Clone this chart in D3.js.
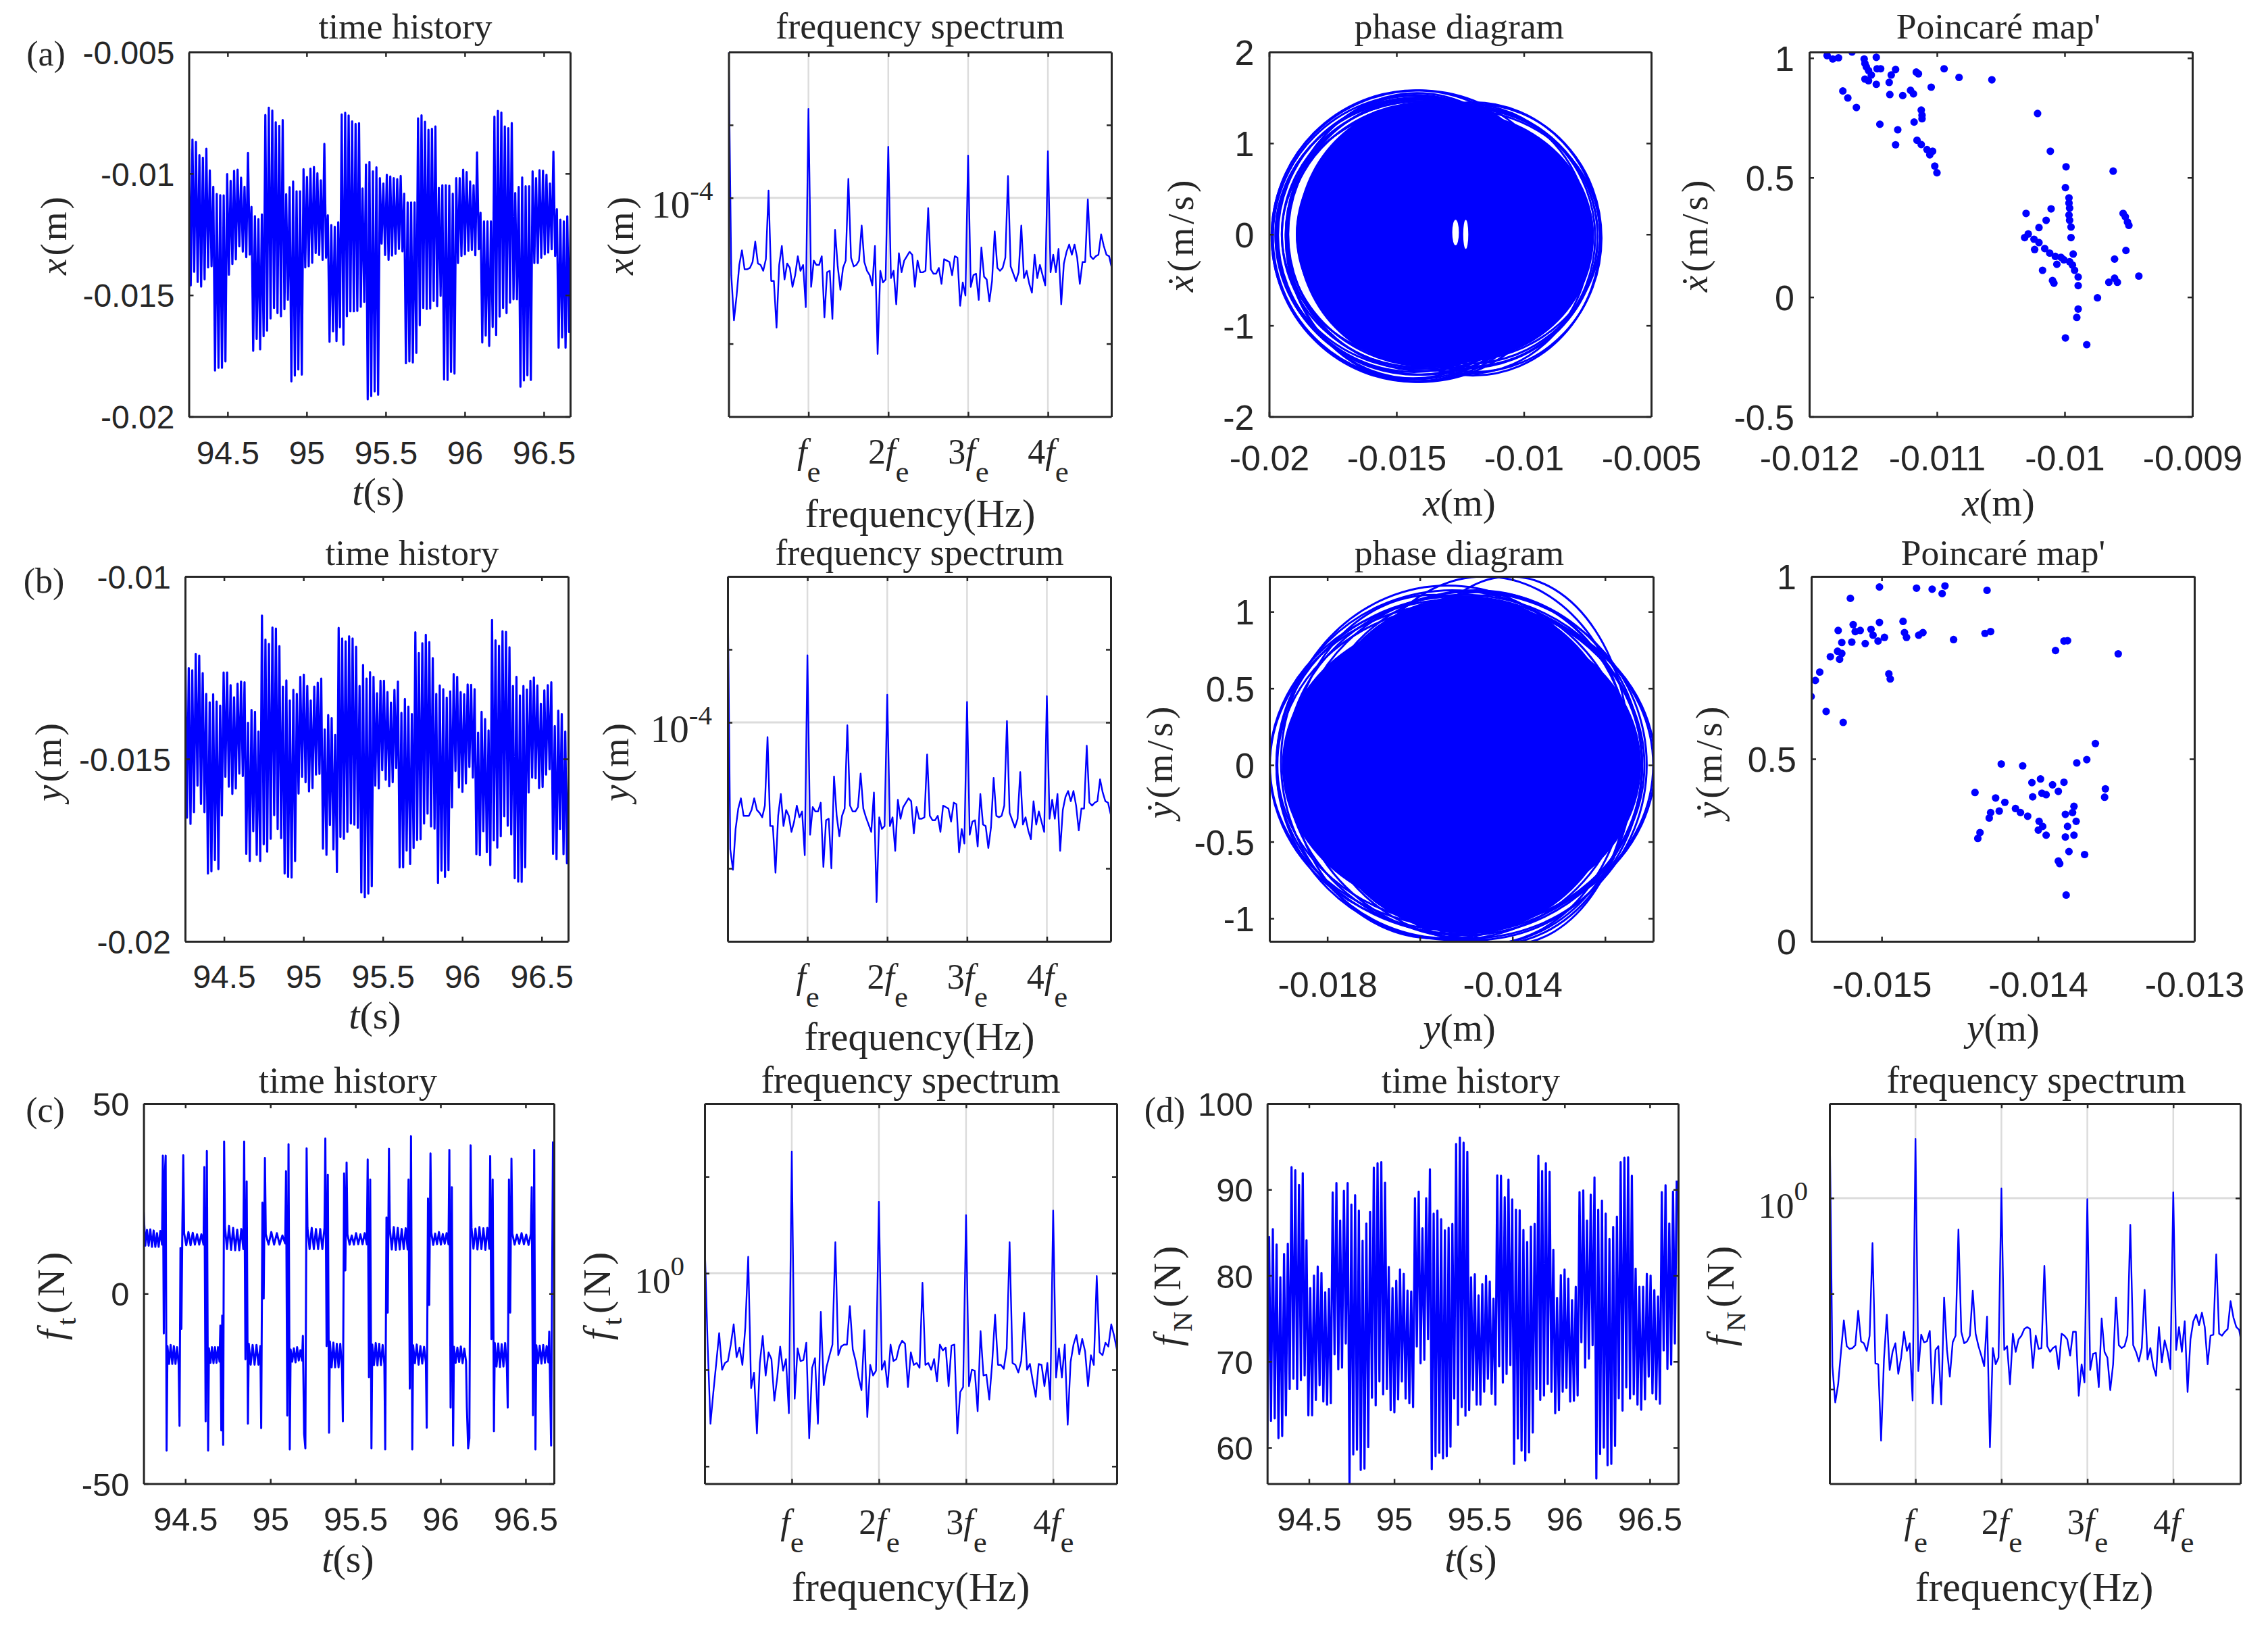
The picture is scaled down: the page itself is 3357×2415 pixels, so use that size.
<!DOCTYPE html>
<html>
<head>
<meta charset="utf-8">
<script src="https://d3js.org/d3.v7.min.js"></script>
<style>
  html, body { margin: 0; background: #fff; }
  svg text { fill: #262626; }
  .serif { font-family: "Liberation Serif", serif; }
  .tick text { font-family: "Liberation Sans", sans-serif; }
</style>
</head>
<body>
<div id="chart-area"></div>
<script>
// time histories, cycle peaks and troughs (x, y in mm, fN in N)
const timeXTops = [-8.98,-8.6,-8.7,-9.24,-9.35,-8.98,-9.87,-10.54,-10.84,-10.89,-10.9,-10.02,-10.3,-9.89,-9.84,-10.17,-10.54,-9.15,-11.37,-11.75,-11.88,-11.68,
  -7.59,-7.29,-7.41,-7.89,-8.04,-7.8,-10.85,-10.56,-10.33,-10.73,-10.73,-9.82,-10.14,-9.8,-9.73,-9.99,-10.28,-8.78,-11.72,-12.12,-12.19,-12.0,
  -7.57,-7.5,-7.61,-7.85,-7.96,-7.93,-10.61,-9.63,-9.52,-9.91,-9.74,-10.19,-10.41,-10.05,-10.12,-10.19,-10.23,-10.1,-10.83,-11.19,-11.19,-11.19,
  -7.73,-7.6,-7.87,-8.2,-8.16,-8.06,-10.59,-10.48,-10.48,-10.5,-10.83,-10.19,-10.19,-9.84,-9.94,-10.33,-10.48,-9.13,-11.61,-11.97,-11.97,-11.97,
  -7.66,-7.42,-7.49,-8.06,-8.13,-7.92,-10.8,-10.55,-10.16,-10.52,-10.52,-9.91,-10.19,-9.86,-9.88,-10.05,-10.41,-9.1,-11.47,-11.9,-11.97,-11.76,-11.61]
const timeXBottoms = [-14.6,-14.04,-14.46,-14.65,-14.35,-13.86,-13.81,-18.1,-17.99,-17.99,-17.73,-14.16,-13.72,-13.53,-12.99,-13.21,-13.44,-13.33,-17.29,-16.8,-17.23,-16.69,-16.46,
  -15.96,-15.53,-15.74,-15.87,-15.58,-15.19,-18.55,-18.31,-18.06,-18.27,-13.86,-13.81,-13.67,-13.27,-13.35,-13.55,-13.46,-16.92,-16.49,-16.89,-16.32,-17.04,
  -15.87,-15.67,-15.67,-15.65,-15.48,-15.28,-19.29,-19.15,-18.96,-19.1,-12.88,-13.35,-13.55,-13.37,-13.3,-13.1,-13.2,-17.8,-17.73,-17.77,-17.38,-16.24,
  -15.53,-15.57,-15.55,-15.24,-15.45,-15.03,-18.47,-18.49,-18.16,-18.23,-13.68,-13.39,-13.32,-13.18,-13.14,-13.36,-13.11,-16.95,-16.66,-17.09,-16.31,-16.64,
  -15.88,-15.53,-15.74,-15.31,-15.17,-15.17,-18.77,-18.51,-18.3,-18.49,-13.68,-13.68,-13.46,-13.32,-13.25,-13.11,-13.39,-17.16,-16.74,-17.16,-16.52]
const timeYTops = [-11.86,-12.51,-12.57,-12.12,-12.17,-12.65,-13.22,-13.45,-13.23,-13.43,-13.54,-12.63,-12.63,-12.98,-13.31,-12.94,-12.88,-12.9,-14.01,-13.66,-13.71,-14.25,
  -11.07,-11.73,-11.85,-11.4,-11.43,-11.91,-13.02,-12.85,-13.4,-13.11,-13.22,-12.75,-12.69,-13.0,-13.4,-13.02,-12.91,-12.8,-14.19,-13.8,-13.88,-14.34,
  -11.41,-11.7,-11.78,-11.64,-11.7,-11.93,-13.0,-12.43,-12.8,-12.62,-12.75,-13.2,-12.86,-12.86,-13.17,-13.46,-13.11,-12.88,-13.74,-13.36,-13.57,-13.77,
  -11.53,-12.1,-11.83,-11.6,-11.8,-12.24,-13.22,-12.99,-13.09,-13.32,-13.15,-12.68,-12.75,-13.17,-13.23,-12.96,-12.97,-13.09,-14.28,-13.71,-13.91,-14.22,
  -11.19,-11.75,-11.9,-11.5,-11.52,-11.94,-13.0,-12.75,-13.26,-13.0,-13.1,-12.86,-12.77,-12.99,-13.49,-13.12,-12.98,-12.9,-14.1,-13.68,-13.77,-14.25,-15.19]
const timeYBottoms = [-16.61,-16.78,-16.46,-15.73,-16.23,-16.46,-18.14,-18.08,-17.77,-18.02,-16.55,-15.49,-15.76,-15.96,-15.81,-15.4,-15.47,-17.6,-17.8,-16.98,-17.63,-17.8,
  -17.34,-17.54,-17.19,-16.54,-16.92,-17.17,-18.14,-18.23,-18.25,-17.8,-15.95,-15.49,-15.64,-15.89,-15.8,-15.43,-15.41,-17.46,-17.63,-16.81,-17.48,-18.1,
  -17.14,-17.19,-17.0,-16.77,-16.8,-16.89,-18.66,-18.79,-18.69,-18.49,-15.73,-15.81,-15.31,-15.57,-15.75,-15.64,-15.25,-17.97,-17.97,-17.51,-17.88,-17.44,
  -17.22,-17.2,-16.77,-16.5,-16.85,-16.91,-18.4,-18.06,-18.23,-18.05,-16.33,-15.33,-15.78,-15.9,-15.67,-15.22,-15.51,-17.61,-17.64,-16.98,-17.55,-17.91,
  -17.23,-17.43,-17.12,-16.57,-16.83,-17.07,-18.27,-18.36,-18.37,-17.97,-15.92,-15.51,-15.53,-15.8,-15.77,-15.43,-15.28,-17.6,-17.75,-16.92,-17.61,-17.86]
const timeNTops = [84.5,85.4,83.6,79.8,82.5,83.7,
  92.6,92.25,90.55,91.9,84.1,78.55,80,81.05,80.3,78.05,78.45,
  89.65,90.75,86.4,89.85,90.75,88.25,89.35,87.55,84.05,86.05,87.4,
  92.55,93.05,93.2,90.8,81,78.55,79.4,80.7,80.2,78.25,78.15,
  89,89.75,85.5,89,92.35,87.2,87.55,86.55,85.25,85.55,86,
  95.3,96.05,95.45,94.4,79.8,80.15,77.7,79,79.95,79.3,77.3,
  91.65,91.6,89.1,91.15,88.85,87.65,87.6,85.3,83.9,85.7,86,
  93.95,92.15,93.05,92.05,83,77.4,80.05,80.7,79.65,77.15,78.7,
  89.7,89.9,86.4,89.4,91.4,87.65,88.7,87.2,84.25,85.65,86.85,
  93.2,93.7,93.75,91.6,80.8,78.7,78.7,80.2,80,78.3,77.55,
  89.7,90.5,86.05,89.75,91.05]
const timeNBottoms = [60.2,63.1,63.4,61.1,61.35,63.75,66.8,
  68,66.8,67.85,68.4,63.75,63.75,65.55,67.25,65.35,65,65.15,
  70.85,69.1,69.3,72.1,55.9,59.2,59.75,57.4,57.55,60.05,65.8,
  64.9,67.7,66.2,66.8,64.35,64.1,65.6,67.7,65.7,65.15,64.7,
  71.75,69.8,70.2,72.6,57.5,59,59.4,58.75,59,60.1,65.7,
  62.65,64.7,63.7,64.35,66.7,65,65,66.5,68,66.25,65,
  69.45,67.55,68.55,69.6,58.1,61.05,59.65,58.5,59.45,61.75,66.8,
  65.55,66.05,67.4,66.5,64,64.35,66.5,66.95,65.35,65.45,66.05,
  72.25,69.3,70.35,71.9,56.4,59.25,60,57.95,58.1,60.2,65.75,
  64.3,67,65.7,66.2,65,64.4,65.6,68.25,66.3,65.6,65.1,
  71.3,69.15,69.65,72.1]

// tangential force: switch instants, spike values at each switch, ripple between switches
const forceSwitchTimes = [94.379,94.477,94.623,94.717,94.857,94.957,95.103,95.202,95.334,95.437,95.583,95.686,95.823,95.93,96.063,96.166,96.303,96.406,96.547,96.65]
const forceSpikes = [[36.3,-10.5,31,36.3,-41.3],[-34.8,12,-9.3,17,36.4],[33.3,-33.6,37.5,-41.3],[-8.4,-36,-5.8,-39.8,40],[40,-17.3,29.5,-34.2],
  [-35.4,23.9,-1.3,35.7],[32.2,-32.1,39.3,-41],[-11.1,-36.9,-40.7,38.2],[40.8,-13.8,31.3,-36.6],[-33.6,31.6,6.1,34.5],
  [35.3,-22,30,-40.7],[-41,20,-5,38.1],[30,-25,41.4,-41],[-35.3,25,-3,36.9],[37.8,-30,28,-40],
  [-30,-40.7,-38,39],[36.2,-12,30,-36.2],[-30,30,-5,35.5],[28,-32,37.8,-41],[-10,-40,40]]
const forceRipple = [[21.5,12.6,16.75,12.6,16.9,12.3,16.6,12.3,15.9,12.3,16.5,12.9],
  [-13.8,-18.5,-13.5,-18.5,-13.8,-18.5,-14.1,-18.7],[15.9,12.7,16.2,12.7,16,12.9,15.6,12.9,15.6,12.9],
  [-14.4,-18.2,-14.1,-18.3,-14.1,-18.2,-14.1,-17.9],[17.6,11.7,17.8,11.5,17.3,11.4,16.8,11.4,17,11.7],
  [-13.2,-18.7,-13.5,-18.7,-13.5,-18.7,-13.8],[15.6,12.9,16.2,12.9,15.9,12.9,15.3,13.2],
  [-14.7,-17.9,-14.4,-18.1,-14.1,-17.6,-14.9,-17.6],[17.3,11.7,17.3,11.7,17,11.7,17,11.7,17.3],
  [-12.6,-19.4,-12.9,-19.4,-13.2,-19.4,-13.2,-19.7],[15.6,12.9,15.3,12.9,15.9,13,15.6,13,15.9,13],
  [-13.4,-18.8,-13,-18.9,-13.2,-18.8,-13.5,-18.6],[17.2,11.6,17.5,11.5,17.3,11.6,17,11.7,17.2,11.6],
  [-13.6,-18.3,-13.4,-18.7,-13.8,-18.4,-14,-18.2],[16,12.8,15.8,13,16.2,12.9,15.7,13.1,15.9,13],
  [-14,-18.2,-14.2,-18,-13.9,-18.3,-14.5,-17.8],[17.4,11.8,17.1,11.6,17.5,11.7,17.2,11.5,17.3,11.8],
  [-13,-19.2,-13.1,-19.3,-13.3,-19.2,-13,-19.1],[15.8,12.9,15.5,13.1,15.9,13,15.5,12.8,15.7],
  [-13.6,-18.3,-13.7,-18.4,-13.5,-18.2,-13.8,-18.1]]

// spectra, decades relative to the labelled gridline, 30 samples per fe
const specX = [1,-.53,-.84,-.67,-.46,-.36,-.49,-.49,-.48,-.44,-.30,-.45,-.46,-.50,-.42,.05,-.57,-.57,-.89,-.46,-.33,-.56,-.45,-.48,-.61,-.53,-.40,-.50,-.46,-.75,
  .61,-.61,-.43,-.46,-.46,-.40,-.82,-.51,-.50,-.83,-.22,-.47,-.63,-.48,-.43,.13,-.41,-.47,-.46,-.43,-.19,-.44,-.50,-.53,-.60,-.33,-1.07,-.50,-.58,-.56,
  .35,-.55,-.50,-.73,-.38,-.51,-.43,-.40,-.37,-.39,-.61,-.43,-.51,-.51,-.50,-.07,-.49,-.52,-.52,-.48,-.59,-.42,-.43,-.44,-.53,-.40,-.41,-.74,-.58,-.67,
  .29,-.61,-.53,-.52,-.70,-.34,-.54,-.56,-.71,-.57,-.23,-.48,-.50,-.48,-.41,.15,-.47,-.52,-.57,-.51,-.19,-.55,-.50,-.59,-.65,-.39,-.55,-.46,-.53,-.60,
  .32,-.51,-.39,-.51,-.35,-.73,-.45,-.37,-.32,-.39,-.32,-.41,-.59,-.44,-.44,-.01,-.40,-.42,-.40,-.39,-.25,-.33,-.39,-.40,-.48]
const specY = [1,-.87,-1.01,-.73,-.59,-.52,-.64,-.64,-.64,-.60,-.52,-.60,-.62,-.65,-.57,-.10,-.71,-.71,-1.03,-.64,-.49,-.71,-.60,-.64,-.75,-.68,-.57,-.65,-.61,-.91,
  .46,-.77,-.58,-.61,-.61,-.55,-.99,-.67,-.66,-1.0,-.37,-.64,-.78,-.64,-.59,-.02,-.57,-.61,-.61,-.58,-.35,-.59,-.65,-.70,-.75,-.48,-1.23,-.65,-.73,-.71,
  .19,-.71,-.65,-.88,-.53,-.66,-.58,-.55,-.52,-.54,-.76,-.58,-.66,-.66,-.65,-.22,-.64,-.67,-.67,-.64,-.75,-.57,-.58,-.59,-.68,-.55,-.56,-.89,-.73,-.83,
  .14,-.77,-.68,-.67,-.85,-.49,-.70,-.71,-.86,-.72,-.38,-.64,-.65,-.64,-.57,.01,-.62,-.67,-.72,-.66,-.34,-.70,-.65,-.74,-.80,-.54,-.70,-.61,-.68,-.75,
  .18,-.66,-.53,-.66,-.49,-.88,-.60,-.51,-.47,-.54,-.47,-.57,-.74,-.59,-.59,-.16,-.55,-.57,-.55,-.54,-.39,-.48,-.54,-.55,-.63]
const specFt = [.34,-.71,-1.56,-1.23,-.93,-.62,-1.0,-.93,-.91,-.74,-.53,-.87,-.77,-.95,-.56,.17,-1.19,-1.03,-1.66,-.93,-.65,-1.06,-.82,-.89,-1.32,-1.08,-.76,-1.01,-.89,-1.45,
  1.26,-1.30,-.78,-.91,-.90,-.72,-1.71,-.98,-.88,-1.56,-.40,-1.16,-.97,-.85,-.74,.32,-.85,-.76,-.74,-.74,-.34,-.79,-.91,-1.08,-1.21,-.59,-1.49,-.95,-1.06,-1.01,
  .74,-1.0,-.91,-1.18,-.74,-.91,-.89,-.76,-.70,-.73,-1.18,-.82,-.95,-.93,-.98,-.10,-.95,-.93,-1.0,-.89,-1.12,-.74,-.80,-.77,-1.17,-.75,-.74,-1.66,-1.23,-1.18,
  .60,-1.17,-1.0,-1.01,-1.43,-.60,-1.06,-1.05,-1.31,-.93,-.43,-.95,-.95,-.99,-.78,.32,-.93,-.95,-1.03,-.91,-.41,-1.0,-.94,-1.12,-1.28,-.94,-.95,-1.17,-.93,-1.31,
  .65,-1.08,-.78,-1.08,-.74,-1.57,-.92,-.74,-.64,-.84,-.68,-.81,-1.17,-.85,-.95,-.03,-.82,-.85,-.72,-.76,-.53,-.65,-.80]
const specFn = [.99,-1.76,-2.14,-1.95,-1.61,-1.28,-1.55,-1.58,-1.57,-1.54,-1.18,-1.50,-1.52,-1.60,-1.44,-.47,-1.73,-1.74,-2.54,-1.69,-1.22,-1.80,-1.61,-1.52,-1.84,-1.67,-1.40,-1.60,-1.52,-2.12,
  .62,-1.81,-1.43,-1.51,-1.50,-1.39,-2.15,-1.59,-1.55,-2.16,-1.04,-1.59,-1.87,-1.51,-1.44,-.33,-1.40,-1.52,-1.50,-1.44,-.97,-1.42,-1.55,-1.65,-1.76,-1.24,-2.61,-1.57,-1.74,-1.67,
  .10,-1.59,-1.55,-1.95,-1.42,-1.61,-1.48,-1.44,-1.37,-1.35,-1.37,-1.78,-1.44,-1.58,-1.57,-.71,-1.55,-1.61,-1.57,-1.55,-1.79,-1.42,-1.44,-1.48,-1.65,-1.40,-1.40,-2.07,-1.74,-1.93,
  -.01,-1.80,-1.63,-1.62,-1.98,-1.26,-1.61,-1.67,-2.01,-1.74,-1.04,-1.54,-1.57,-1.55,-1.44,-.28,-1.54,-1.61,-1.71,-1.57,-.96,-1.69,-1.57,-1.76,-1.86,-1.35,-1.72,-1.49,-1.61,-1.79,
  .06,-1.59,-1.35,-1.61,-1.29,-2.03,-1.48,-1.29,-1.22,-1.33,-1.20,-1.35,-1.74,-1.44,-1.43,-.59,-1.42,-1.44,-1.40,-1.37,-1.08,-1.25,-1.35,-1.38,-1.55]

// phase diagrams: traced orbits as [centre x mm, centre v, half width mm, half height]
const phaseXOrbits = [[-14.1,-.02,5.8,1.6],[-14.25,-.02,5.65,1.6],[-14.3,-.03,5.55,1.56],[-14.2,-.02,5.5,1.52],[-14.1,0,5.65,1.48],[-14.3,-.01,5.35,1.5],[-14.05,0,5.45,1.46],[-14.15,0,5.2,1.46],
  [-14,-.02,5.75,1.52],[-14.2,-.03,5.1,1.58],[-14.35,-.03,5,1.55],[-13.9,0,5.35,1.5],[-13.7,0,5.6,1.45],[-13.6,0,5.9,1.42],
  [-12,-.05,5,1.5],[-11.9,-.04,4.95,1.47],[-12.1,-.03,4.9,1.42],[-12.2,-.02,5.1,1.4],[-12.5,-.01,5.5,1.38],[-12.3,-.03,5.2,1.44],[-12.2,-.05,4.8,1.48]]
const phaseXCore = [[-13.1,0,5.85,1.25],[-13.9,0,5,1.45],[-12.6,-.03,5.35,1.37],[-13.4,0,5.55,1.38]]
const phaseXGaps = [[-12.68,.02,.13,.14],[-12.28,0,.1,.16]]
const phaseYOrbits = [[-15.1,0,4.14,1.06],[-15.2,0,4.05,1.08],[-15,0,4.08,1.05],[-15.3,0,3.8,1.14],[-14.9,0,3.8,1.13],[-15.4,.02,3.6,1.15],[-14.8,0,3.6,1.14],
  [-14.6,.03,3.1,1.2],[-14.05,.03,2.6,1.2],[-14.6,-.02,3.2,1.15],[-14.4,-.03,3,1.14],[-15.7,-.01,3.1,1.12],[-15.15,0,3.95,1.1],[-15.05,0,3.85,1.11]]
const phaseYCore = [[-15.1,0,3.88,.98],[-15,0,3.4,1.1]]

// Poincare maps
const mapXPos = [-11.86,-11.816,-11.771,-11.665,-11.57,-11.564,-11.475,-11.553,-11.536,-11.469,-11.441,-11.514,-11.564,-11.536,-11.324,-11.358,-11.374,-11.475,-11.162,-11.145,-10.944,-10.827,-10.57,-11.737,-11.698,-11.631,-11.045,-11.369,-11.268,-11.207,-11.184,-11.123,-11.117,-11.117,-11.179,-11.447,-11.307,-10.212,-11.156,-11.123,-11.324,-11.078,-11.034,-11.056,-11.017,-11,-10.112,-9.989,-9.62,-9.994,-9.966,-9.966,-9.961,-9.966,-9.961,-9.95,-9.95,-9.542,-9.525,-9.508,-9.497,-10.302,-10.106,-10.145,-10.201,-10.313,-10.285,-10.24,-10.235,-10.201,-10.156,-10.117,-10.073,-10.028,-10.006,-9.933,-9.52,-10.061,-9.961,-9.939,-9.922,-9.609,-10.173,-9.894,-10.095,-10.084,-9.894,-9.654,-9.609,-9.587,-9.419,-9.743,-9.894,-9.905,-9.994,-9.827]
const mapXVel = [1.01,.996,1.001,1.025,.996,.977,1.003,.963,.948,.955,.955,.929,.912,.905,.952,.929,.898,.89,.941,.934,.955,.919,.909,.862,.833,.793,.878,.847,.843,.865,.85,.782,.761,.746,.732,.723,.7,.768,.656,.638,.637,.617,.61,.595,.548,.52,.61,.545,.527,.458,.415,.393,.372,.343,.321,.293,.249,.35,.336,.314,.3,.35,.369,.321,.291,.249,.264,.242,.199,.228,.203,.184,.17,.166,.156,.18,.195,.137,.148,.134,.112,.159,.112,.084,.069,.058,.048,.062,.079,.062,.088,-.003,-.05,-.085,-.171,-.199]
const mapYPos = [-15.451,-15.424,-15.396,-15.355,-15.246,-15.328,-15.282,-15.269,-15.255,-15.255,-15.278,-15.2,-15.014,-14.777,-14.677,-14.613,-14.595,-14.326,-15.014,-14.863,-14.854,-14.841,-14.763,-14.736,-15.182,-15.169,-15.191,-15.137,-15.105,-15.068,-15.055,-15.023,-14.982,-14.954,-14.945,-14.54,-14.339,-14.303,-13.888,-13.834,-13.811,-13.487,-13.633,-13.688,-13.752,-14.235,-14.098,-14.039,-13.984,-13.907,-13.834,-13.569,-13.574,-14.403,-14.271,-14.034,-13.975,-13.948,-13.87,-14.212,-14.303,-14.248,-14.144,-14.112,-14.066,-14.312,-13.993,-13.97,-13.998,-13.948,-13.825,-13.77,-13.779,-13.756,-13.811,-13.77,-13.825,-14.371,-14.385,-13.802,-13.702,-13.87,-13.861,-13.82]
const mapYVel = [.671,.715,.738,.63,.6,.78,.795,.773,.789,.819,.852,.94,.971,.968,.965,.953,.974,.962,.874,.877,.846,.833,.839,.846,.868,.849,.82,.852,.816,.855,.839,.823,.833,.733,.719,.827,.844,.849,.797,.823,.824,.788,.542,.498,.489,.486,.481,.435,.445,.429,.436,.418,.395,.408,.393,.396,.406,.402,.411,.381,.353,.357,.364,.353,.343,.338,.329,.315,.305,.291,.348,.37,.353,.329,.315,.291,.286,.298,.282,.246,.238,.22,.213,.127]

// ticks
const timeTicks = [94.5, 95, 95.5, 96, 96.5]
const timeTickLabels = ["94.5", "95", "95.5", "96", "96.5"]
const harmonicTicks = [1, 2, 3, 4]
const harmonicPrefix = ["", "2", "3", "4"]

const BLUE = "#0000ff"
const WIDTH = 3357, HEIGHT = 2415
const CYCLE = 0.02195, TIME_LEFT = 94.255, TIME_RIGHT = 96.667

const svg = d3.select("#chart-area").append("svg")
  .attr("width", WIDTH)
  .attr("height", HEIGHT)
  .attr("viewBox", `0 0 ${WIDTH} ${HEIGHT}`)
  .style("display", "block")

const defs = svg.append("defs")
let clipCount = 0

// writes italic / upright / subscript runs into a text element
function rich(text, parts, size) {
  let shift = 0
  parts.forEach(p => {
    const target = p.sub ? size * 0.3 : 0
    text.append("tspan")
      .attr("dy", target - shift)
      .attr("font-style", p.i ? "italic" : "normal")
      .attr("font-size", p.sub ? size * 0.72 : size)
      .text(p.t)
    shift = target
  })
}

function label(x, y, parts, size, rotate, spacing) {
  const t = svg.append("text")
    .attr("class", "serif")
    .attr("text-anchor", "middle")
    .attr("font-size", size)
    .attr("transform", `translate(${x},${y})` + (rotate ? " rotate(-90)" : ""))
  if (spacing) t.style("letter-spacing", spacing + "px")
  rich(t, parts, size)
  return t
}

// makes one boxed panel with MATLAB style inward ticks on all four sides
function panel(box, xDomain, yDomain, opt) {
  const w = box.r - box.l, h = box.b - box.t
  const g = svg.append("g").attr("transform", `translate(${box.l},${box.t})`)
  const x = d3.scaleLinear().domain(xDomain).range([0, w])
  const y = d3.scaleLinear().domain(yDomain).range([h, 0])
  const id = "clip" + (clipCount++)
  defs.append("clipPath").attr("id", id).append("rect").attr("width", w).attr("height", h)

  if (opt.gridX) opt.gridX.forEach(d => g.append("line").attr("x1", x(d)).attr("x2", x(d)).attr("y1", 0).attr("y2", h)
    .attr("stroke", "#dcdcdc").attr("stroke-width", 2.5))
  if (opt.gridY) opt.gridY.forEach(d => g.append("line").attr("y1", y(d)).attr("y2", y(d)).attr("x1", 0).attr("x2", w)
    .attr("stroke", "#dcdcdc").attr("stroke-width", 3))

  const plot = g.append("g").attr("clip-path", `url(#${id})`)

  const fmt = (labels, ticks) => d => { const i = ticks.indexOf(d); return i < 0 || !labels ? "" : labels[i] }
  const xBottom = d3.axisBottom(x).tickValues(opt.xTicks).tickSize(-7).tickSizeOuter(0).tickPadding(opt.xPad)
    .tickFormat(fmt(opt.xLabels, opt.xTicks))
  const yLeft = d3.axisLeft(y).tickValues(opt.yTicks).tickSize(-7).tickSizeOuter(0).tickPadding(opt.yPad || 21)
    .tickFormat(fmt(opt.yLabels, opt.yTicks))
  const xTop = d3.axisTop(x).tickValues(opt.xTicks).tickSize(-7).tickSizeOuter(0).tickFormat("")
  const yRight = d3.axisRight(y).tickValues(opt.yTicks).tickSize(-7).tickSizeOuter(0).tickFormat("")

  const axes = g.append("g")
  const gx = axes.append("g").attr("transform", `translate(0,${h})`).call(xBottom)
  const gy = axes.append("g").call(yLeft)
  axes.append("g").call(xTop)
  axes.append("g").attr("transform", `translate(${w},0)`).call(yRight)
  axes.selectAll("path.domain").attr("stroke", "#262626").attr("stroke-width", 3)
  axes.selectAll(".tick line").attr("stroke", "#262626").attr("stroke-width", 2.5)
  gx.selectAll("text").attr("font-size", opt.fontSize).attr("fill", "#262626")
  gy.selectAll("text").attr("font-size", opt.fontSize).attr("fill", "#262626").attr("dy", "0.36em")
  return { x, y, plot, gx, gy, w, h }
}

const lineOf = (p) => d3.line().x(d => p.x(d[0])).y(d => p.y(d[1]))

function timeChart(box, tops, bottoms, yDomain, yTicks, yLabels, opt) {
  const p = panel(box, [TIME_LEFT, TIME_RIGHT], yDomain, {
    xTicks: timeTicks, xLabels: timeTickLabels, yTicks, yLabels, xPad: opt.pad, fontSize: opt.fontSize })
  const pts = []
  tops.forEach((v, i) => pts.push([TIME_LEFT + opt.start + CYCLE * i, v]))
  bottoms.forEach((v, i) => pts.push([TIME_LEFT + opt.start + CYCLE * (i + opt.phase), v]))
  pts.sort((a, b) => d3.ascending(a[0], b[0]))
  p.plot.append("path").datum(pts).attr("d", lineOf(p))
    .attr("fill", "none").attr("stroke", BLUE).attr("stroke-width", 3.2).attr("stroke-linejoin", "round")
}

function forceChart(box) {
  const p = panel(box, [TIME_LEFT, TIME_RIGHT], [-50, 50], {
    xTicks: timeTicks, xLabels: timeTickLabels, yTicks: [-50, 0, 50], yLabels: ["-50", "0", "50"], xPad: 35, fontSize: 49 })
  const pts = []
  const spread = (vals, a, b) => vals.forEach((v, i) => pts.push([vals.length > 1 ? a + (b - a) * i / (vals.length - 1) : a, v]))
  forceSwitchTimes.forEach((ts, i) => {
    const from = i === 0 ? TIME_LEFT : forceSwitchTimes[i - 1] + 0.016
    spread(forceRipple[i], from, ts - 0.016)
    spread(forceSpikes[i], ts - 0.011, ts + 0.011)
  })
  p.plot.append("path").datum(pts).attr("d", lineOf(p))
    .attr("fill", "none").attr("stroke", BLUE).attr("stroke-width", 3).attr("stroke-linejoin", "round")
}

function specChart(box, values, xMax, yDomain, yTicks, exponent, tickBaseline, labelGap) {
  const p = panel(box, [0, xMax], yDomain, {
    xTicks: harmonicTicks, yTicks, xPad: 30, fontSize: 46, gridX: harmonicTicks, gridY: [0] })
  p.plot.append("path").datum(values.map((v, i) => [i / 30, v])).attr("d", lineOf(p))
    .attr("fill", "none").attr("stroke", BLUE).attr("stroke-width", 2.4).attr("stroke-linejoin", "round")

  const fe = p.gx.selectAll(".tick").append("text")
    .attr("class", "serif").attr("text-anchor", "middle").attr("y", tickBaseline).attr("font-size", 52)
  fe.each(function (d, i) {
    const t = d3.select(this).style("font-family", "Liberation Serif")
    t.append("tspan").attr("font-size", 52).text(harmonicPrefix[i])
    t.append("tspan").attr("font-size", 52).attr("font-style", "italic").text("f")
    t.append("tspan").attr("font-size", 45).attr("dy", 27).text("e")
  })

  const lab = p.gy.append("text")
    .attr("text-anchor", "end").attr("x", -labelGap).attr("y", p.y(0) + 29)
    .style("font-family", "Liberation Serif").attr("fill", "#262626")
  lab.append("tspan").attr("font-size", exponent === "0" ? 53 : 57).text("10")
  lab.append("tspan").attr("font-size", 41).attr("dy", -26).text(exponent)
}

function phaseChart(box, xDomain, yDomain, xTicks, xLabels, yTicks, yLabels, orbits, core, gaps, pad) {
  const p = panel(box, xDomain, yDomain, { xTicks, xLabels, yTicks, yLabels, xPad: pad, fontSize: 52, yPad: 22 })
  const ell = (sel, data) => sel.selectAll(null).data(data).join("ellipse")
    .attr("cx", d => p.x(d[0])).attr("cy", d => p.y(d[1]))
    .attr("rx", d => p.x(d[0] + d[2]) - p.x(d[0])).attr("ry", d => p.y(d[1] - d[3]) - p.y(d[1]))
  ell(p.plot, core).attr("fill", BLUE)
  ell(p.plot.append("g"), orbits).attr("fill", "none").attr("stroke", BLUE).attr("stroke-width", 3)
  ell(p.plot.append("g"), gaps).attr("fill", "#fff")
}

function mapChart(box, xDomain, yDomain, xTicks, xLabels, yTicks, yLabels, xs, vs, pad) {
  const p = panel(box, xDomain, yDomain, { xTicks, xLabels, yTicks, yLabels, xPad: pad, fontSize: 52, yPad: 22 })
  p.plot.selectAll("circle").data(xs).join("circle")
    .attr("cx", d => p.x(d)).attr("cy", (d, i) => p.y(vs[i])).attr("r", 5.6).attr("fill", BLUE)
}

const xMmTicks = [-20, -15, -10, -5], xMmLabels = ["-0.02", "-0.015", "-0.01", "-0.005"]
const i = t => ({ t, i: true }), r = t => ({ t }), s = t => ({ t, sub: true })

// row (a)
timeChart({ l: 279.5, r: 844, t: 77, b: 616.5 }, timeXTops, timeXBottoms, [-20, -5], [-20, -15, -10, -5], ["-0.02", "-0.015", "-0.01", "-0.005"],
  { start: 0.001, phase: 0.5, pad: 36, fontSize: 48 })
specChart({ l: 1078.5, r: 1645, t: 77, b: 616.5 }, specX, 4.795, [-1.5, 1], [-1, 0, 0.5], "-4", 69, 23)
phaseChart({ l: 1878.5, r: 2444, t: 77, b: 616.5 }, [-20, -5], [-2, 2], xMmTicks, xMmLabels, [-2, -1, 0, 1, 2], ["-2", "-1", "0", "1", "2"], phaseXOrbits, phaseXCore, phaseXGaps, 43)
mapChart({ l: 2678, r: 3245, t: 77, b: 616.5 }, [-12, -9], [-0.5, 1.025], [-12, -11, -10, -9], ["-0.012", "-0.011", "-0.01", "-0.009"], [-0.5, 0, 0.5, 1], ["-0.5", "0", "0.5", "1"], mapXPos, mapXVel, 43)

// row (b)
timeChart({ l: 274, r: 841, t: 853, b: 1393 }, timeYTops, timeYBottoms, [-20, -10], [-20, -15, -10], ["-0.02", "-0.015", "-0.01"],
  { start: 0.001, phase: 0.5, pad: 35, fontSize: 48 })
specChart({ l: 1077, r: 1644, t: 853, b: 1393 }, specY, 4.8, [-1.5, 1], [-1, 0, 0.5], "-4", 70, 23)
phaseChart({ l: 1879, r: 2447, t: 853, b: 1393 }, [-19.25, -10.96], [-1.15, 1.23], [-18, -16, -14, -12], ["-0.018", "", "-0.014", ""], [-1, -0.5, 0, 0.5, 1], ["-1", "-0.5", "0", "0.5", "1"], phaseYOrbits, phaseYCore, [], 45)
mapChart({ l: 2681, r: 3248, t: 853, b: 1393 }, [-15.45, -13], [0, 1], [-15, -14, -13], ["-0.015", "-0.014", "-0.013"], [0, 0.5, 1], ["0", "0.5", "1"], mapYPos, mapYVel, 45)

// row (c) and (d)
forceChart({ l: 212.6, r: 820, t: 1633, b: 2195.5 })
specChart({ l: 1043, r: 1653, t: 1633, b: 2195.5 }, specFt, 4.73, [-2.18, 1.757], [-2, -1, 0, 1], "0", 74, 30)
timeChart({ l: 1875.7, r: 2484, t: 1633, b: 2195.5 }, timeNTops, timeNBottoms, [55.8, 100], [60, 70, 80, 90, 100], ["60", "70", "80", "90", "100"],
  { start: 0.011, phase: -0.5, pad: 35, fontSize: 49 })
specChart({ l: 2708, r: 3316, t: 1633, b: 2195.5 }, specFn, 4.78, [-2.99, 0.99], [-2, -1, 0], "0", 74, 32)

// panel letters
label(68, 97, [r("(a)")], 52)
label(65, 877, [r("(b)")], 52)
label(67, 1660, [r("(c)")], 52)
label(1724, 1660, [r("(d)")], 52)

// titles
const titles = [[600, 57, "time history", 53.5], [1362, 57, "frequency spectrum", 54], [2160, 57, "phase diagram", 53.5], [2958, 57, "Poincaré map'", 53.5],
  [610, 836, "time history", 53.5], [1361, 836, "frequency spectrum", 54], [2160, 836, "phase diagram", 53.5], [2965, 836, "Poincaré map'", 53.5],
  [515, 1617, "time history", 55], [1348, 1617, "frequency spectrum", 56], [2177, 1617, "time history", 55], [3014, 1617, "frequency spectrum", 56]]
titles.forEach(d => label(d[0], d[1], [r(d[2])], d[3]))

// x labels
const freq = [r("frequency(Hz)")]
label(560, 747, [i("t"), r("(s)")], 58)
label(1362, 780, freq, 58.5)
label(2160, 763, [i("x"), r("(m)")], 57)
label(2958, 763, [i("x"), r("(m)")], 57)
label(555, 1522, [i("t"), r("(s)")], 58)
label(1361, 1554, freq, 58.5)
label(2160, 1540, [i("y"), r("(m)")], 57)
label(2965, 1540, [i("y"), r("(m)")], 57)
label(515, 2326, [i("t"), r("(s)")], 58)
label(1348, 2369, freq, 60.5)
label(2177, 2326, [i("t"), r("(s)")], 58)
label(3011, 2369, freq, 60.5)

// y labels
label(98, 347, [i("x"), r("(m)")], 55, true, 4)
label(937, 347, [i("x"), r("(m)")], 55, true, 4)
label(1766, 347, [i("x\u0307"), r("(m/s)")], 55, true, 5)
label(2527, 347, [i("x\u0307"), r("(m/s)")], 55, true, 5)
label(90, 1126, [i("y"), r("(m)")], 55, true, 4)
label(930, 1126, [i("y"), r("(m)")], 55, true, 4)
label(1735, 1126, [i("y\u0307"), r("(m/s)")], 55, true, 5)
label(2548, 1126, [i("y\u0307"), r("(m/s)")], 55, true, 5)
label(95, 1915, [i("f"), s("t"), r("(N)")], 57, true, 6)
label(903, 1915, [i("f"), s("t"), r("(N)")], 57, true, 6)
label(1747, 1915, [i("f"), s("N"), r("(N)")], 57, true, 6)
label(2566, 1915, [i("f"), s("N"), r("(N)")], 57, true, 6)
</script>
</body>
</html>
